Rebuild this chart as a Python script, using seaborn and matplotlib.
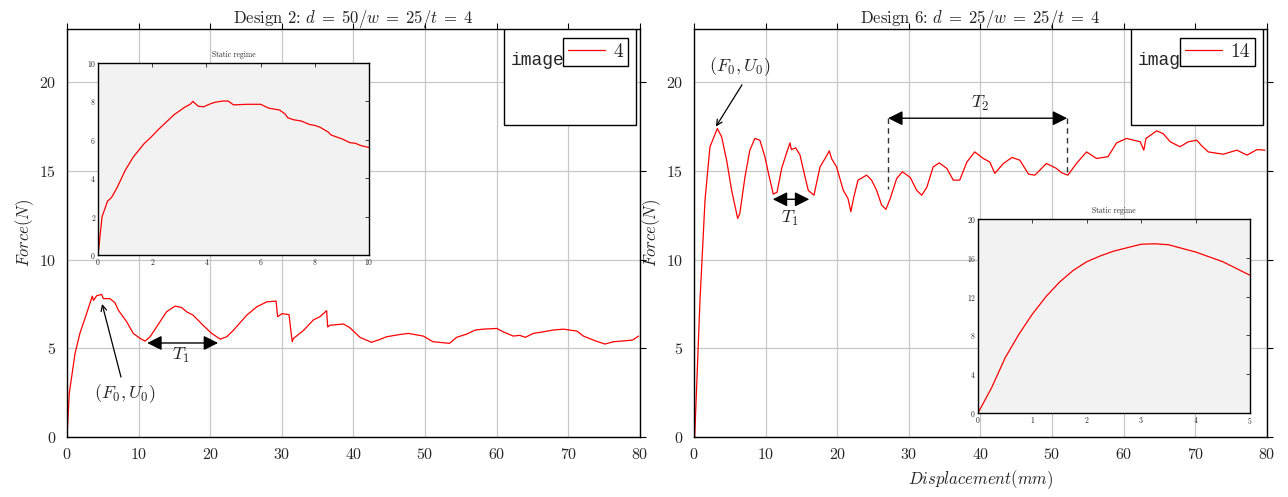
"""
Force vs displacement - Design 2 and Design 6, with static regime insets
"""

import pandas as pd
import numpy as np
import matplotlib
matplotlib.use('Agg')
import matplotlib.pyplot as plt
from matplotlib.lines import Line2D
from matplotlib.patches import Rectangle
import seaborn as sns

# Design 2 (d=50, w=25, t=4)
u_d2 = [0, 0.32, 1.12, 1.8, 2.75, 3.53, 3.7, 4.14, 4.84, 5.07, 6.0, 6.7, 7.17, 8.33, 9.26,
        10.2, 10.9, 11.6, 12.5, 13.9, 15.1, 16.0, 16.7, 17.6, 19.0, 20.2, 21.4, 22.3, 23.2,
        25.1, 26.5, 27.9, 29.2, 29.4, 30.0, 31.0, 31.2, 31.45, 31.6, 33.0, 34.4, 35.3, 36.25,
        36.4, 36.7, 38.6, 39.5, 40.9, 42.5, 43.7, 44.6, 46.5, 47.65, 49.75, 51.1, 53.4, 54.4,
        55.8, 57.0, 58.1, 60.0, 60.9, 62.3, 63.2, 64.0, 65.1, 66.5, 67.9, 69.3, 71.2, 72.1,
        73.7, 75.1, 76.3, 78.1, 79.0, 79.8]
f_d2 = [0, 2.46, 4.7, 5.84, 6.97, 7.94, 7.7, 7.96, 8.04, 7.8, 7.8, 7.57, 7.15, 6.5, 5.84,
        5.56, 5.41, 5.65, 6.2, 7.06, 7.38, 7.3, 7.06, 6.87, 6.3, 5.84, 5.52, 5.65, 6.0,
        6.87, 7.34, 7.62, 7.66, 6.78, 6.95, 6.9, 6.2, 5.37, 5.55, 6.0, 6.6, 6.78, 7.12,
        6.2, 6.3, 6.37, 6.16, 5.62, 5.34, 5.5, 5.65, 5.78, 5.84, 5.69, 5.37, 5.28, 5.62,
        5.8, 6.03, 6.08, 6.12, 5.93, 5.69, 5.73, 5.62, 5.84, 5.93, 6.03, 6.08, 5.97, 5.69,
        5.43, 5.24, 5.37, 5.43, 5.47, 5.69]

# Design 6 (d=25, w=25, t=4)
u_d6 = [0.1, 0.84, 1.54, 2.23, 3.26, 3.86, 4.56, 5.26, 6.1, 6.4, 7.12, 7.8, 8.5, 9.2, 9.9,
        10.4, 11.07, 11.6, 12.24, 12.9, 13.4, 13.6, 14.2, 14.8, 15.5, 15.96, 16.75, 17.6,
        18.3, 18.9, 19.2, 19.9, 20.85, 21.5, 21.9, 22.3, 22.9, 24.1, 24.8, 25.5, 26.2, 26.8,
        27.4, 28.3, 29.1, 30.2, 31.1, 31.8, 32.5, 33.4, 34.25, 35.3, 36.2, 37.1, 38.1, 39.2,
        40.4, 41.3, 42.0, 43.2, 44.4, 45.5, 46.7, 47.6, 49.2, 50.6, 51.3, 52.2, 53.4, 54.8,
        56.2, 57.8, 59.0, 60.4, 62.3, 62.8, 63.1, 64.6, 65.5, 66.5, 67.85, 69.0, 70.2, 70.8,
        71.8, 73.9, 75.8, 77.2, 78.6, 79.7]
f_d6 = [0, 7.7, 13.35, 16.35, 17.39, 16.92, 15.6, 13.9, 12.32, 12.6, 14.66, 16.17, 16.83,
        16.73, 15.8, 14.86, 13.69, 13.8, 15.14, 15.98, 16.58, 16.2, 16.3, 15.9, 14.67, 13.9,
        13.63, 15.23, 15.7, 16.13, 15.7, 15.23, 13.9, 13.45, 12.7, 13.5, 14.48, 14.76, 14.48,
        13.9, 13.07, 12.83, 13.45, 14.57, 14.95, 14.63, 13.9, 13.63, 14.07, 15.23, 15.45,
        15.14, 14.48, 14.48, 15.5, 16.07, 15.7, 15.5, 14.86, 15.42, 15.76, 15.6, 14.82, 14.76,
        15.42, 15.14, 14.9, 14.76, 15.42, 16.07, 15.7, 15.8, 16.58, 16.83, 16.64, 16.17,
        16.83, 17.26, 17.1, 16.64, 16.36, 16.64, 16.73, 16.45, 16.07, 15.94, 16.17, 15.89,
        16.2, 16.17]

# Static regime (insets)
u_s2 = [0, 0.15, 0.35, 0.5, 0.7, 1.0, 1.3, 1.7, 2.0, 2.2, 2.5, 2.8, 3.0, 3.2, 3.4, 3.5,
        3.7, 3.9, 4.1, 4.3, 4.6, 4.8, 5.0, 5.5, 6.0, 6.3, 6.7, 6.9, 7.0, 7.2, 7.5, 7.8, 8.0,
        8.2, 8.5, 8.6, 9.0, 9.3, 9.5, 9.7, 10.0]
f_s2 = [0, 2.0, 2.8, 3.0, 3.5, 4.4, 5.1, 5.8, 6.2, 6.5, 6.9, 7.3, 7.5, 7.7, 7.85, 8.0,
        7.75, 7.72, 7.85, 7.95, 8.02, 8.02, 7.82, 7.85, 7.85, 7.65, 7.55, 7.35, 7.15, 7.05,
        6.98, 6.8, 6.75, 6.65, 6.4, 6.25, 6.05, 5.85, 5.82, 5.7, 5.6]
u_s6 = [0, 0.25, 0.5, 0.75, 1.0, 1.25, 1.5, 1.75, 2.0, 2.25, 2.5, 3.0, 3.25, 3.5, 4.0, 4.5, 5.0]
f_s6 = [0, 2.6, 5.7, 8.1, 10.2, 12.0, 13.5, 14.7, 15.6, 16.2, 16.7, 17.4, 17.45, 17.35,
        16.6, 15.6, 14.2]

sns.set_style('white')
plt.rcParams['font.family'] = 'serif'
plt.rcParams['font.serif'] = ['cmr10', 'DejaVu Serif']
plt.rcParams['mathtext.fontset'] = 'cm'
plt.rcParams['axes.formatter.use_mathtext'] = True
plt.rcParams['axes.unicode_minus'] = False

fig = plt.figure(figsize=(12.88, 4.97), dpi=100)
ax1 = fig.add_axes([0.052, 0.1207, 0.4449, 0.821])
ax2 = fig.add_axes([0.5388, 0.1207, 0.4449, 0.821])

arrow_big = dict(arrowstyle='<|-|>', color='black', lw=1.0, mutation_scale=22,
                 shrinkA=0, shrinkB=0)
arrow_thin = dict(arrowstyle='->', color='black', lw=0.9, shrinkA=0, shrinkB=0)


def main_axes(ax, u, f, title, leg_label):
    df = pd.DataFrame({'u': u, 'f': f})
    sns.lineplot(data=df, x='u', y='f', ax=ax, color='red', lw=0.9, estimator=None)
    ax.set_xlim(0, 80)
    ax.set_ylim(0, 23)
    ax.set_xticks(np.arange(0, 81, 10))
    ax.set_yticks([0, 5, 10, 15, 20])
    ax.grid(True, color='#c8c8c8', lw=0.9)
    ax.tick_params(direction='out', length=4, top=True, right=True, labelsize=11.5,
                   width=0.8, color='black')
    for s in ax.spines.values():
        s.set_linewidth(1.0)
        s.set_color('black')
    ax.set_title(title, fontsize=12, pad=4)
    ax.set_xlabel('')
    ax.set_ylabel('')
    # boxed "images" legend area
    ax.add_patch(Rectangle((61.0, 17.6), 18.5, 5.4, facecolor='white', edgecolor='black',
                           lw=1.0, zorder=5))
    ax.text(61.9, 21.25, 'images', family='Liberation Mono', fontsize=13, va='center',
            zorder=6)
    h = Line2D([], [], color='red', lw=0.9)
    leg = ax.legend([h], [leg_label], loc='upper right', bbox_to_anchor=(0.979, 0.978),
                    fontsize=14, fancybox=False, framealpha=1, edgecolor='black',
                    handlelength=1.9, handletextpad=0.45, borderpad=0.25, borderaxespad=0)
    leg.get_frame().set_linewidth(1.0)
    leg.set_zorder(7)


def inset_axes(rect, u, f, xmax, yticks):
    ax = fig.add_axes(rect)
    df = pd.DataFrame({'u': u, 'f': f})
    sns.lineplot(data=df, x='u', y='f', ax=ax, color='red', lw=0.9, estimator=None)
    ax.set_facecolor('#f2f2f2')
    ax.set_xlim(0, xmax)
    ax.set_ylim(yticks[0], yticks[-1])
    ax.set_yticks(yticks)
    ax.tick_params(direction='in', length=3, top=True, right=True, labelsize=5.5,
                   pad=1.5, width=0.6)
    for s in ax.spines.values():
        s.set_linewidth(1.0)
        s.set_color('black')
    ax.set_title('Static regime', fontsize=5.5, pad=4)
    ax.set_xlabel('')
    ax.set_ylabel('')
    return ax


main_axes(ax1, u_d2, f_d2, r'Design 2: $d\;=\;50/w\;=\;25/t\;=\;4$', '4')
main_axes(ax2, u_d6, f_d6, r'Design 6: $d\;=\;25/w\;=\;25/t\;=\;4$', '14')

ax1.set_ylabel(r'$Force(N)$', fontsize=12, labelpad=2)
ax2.set_ylabel(r'$Force(N)$', fontsize=12, labelpad=2)
ax2.set_xlabel(r'$Displacement(mm)$', fontsize=12, labelpad=4)

# Design 2 annotations
ax1.text(8.1, 2.45, r'$(F_0, U_0)$', fontsize=13, ha='center', va='center')
ax1.annotate('', xy=(4.9, 7.5), xytext=(7.54, 3.38), arrowprops=arrow_thin)
ax1.annotate('', xy=(11.2, 5.3), xytext=(21.1, 5.3), arrowprops=arrow_big)
ax1.text(15.9, 4.6, r'$T_1$', fontsize=13, ha='center', va='center')

# Design 6 annotations
ax2.text(6.4, 20.85, r'$(F_0, U_0)$', fontsize=13, ha='center', va='center')
ax2.annotate('', xy=(3.07, 17.5), xytext=(6.7, 19.85), arrowprops=arrow_thin)
ax2.annotate('', xy=(11.0, 13.4), xytext=(16.1, 13.4), arrowprops=arrow_big)
ax2.text(13.4, 12.3, r'$T_1$', fontsize=13, ha='center', va='center')
ax2.annotate('', xy=(27.1, 17.97), xytext=(52.1, 17.97), arrowprops=arrow_big)
ax2.text(39.9, 18.8, r'$T_2$', fontsize=13, ha='center', va='center')
ax2.plot([27.1, 27.1], [17.97, 14.0], ls=(0, (4, 3)), color='#333333', lw=1.0)
ax2.plot([52.1, 52.1], [17.97, 14.95], ls=(0, (4, 3)), color='#333333', lw=1.0)

inset_axes([0.0761, 0.4869, 0.2104, 0.3863], u_s2, f_s2, 10, [0, 2, 4, 6, 8, 10])
inset_axes([0.7593, 0.169, 0.2112, 0.3903], u_s6, f_s6, 5, [0, 4, 8, 12, 16, 20])

fig.savefig('out.png', dpi=100)
